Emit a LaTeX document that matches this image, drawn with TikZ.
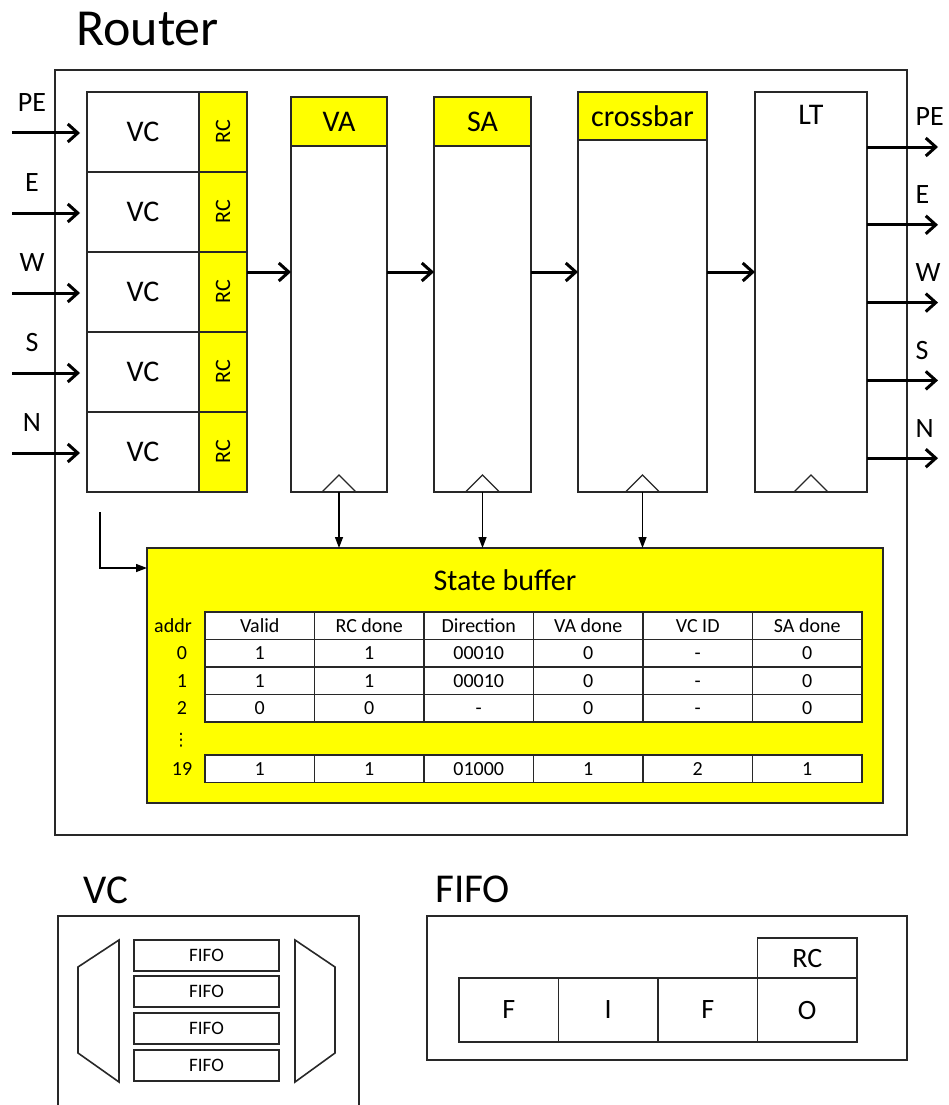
\documentclass[tikz,border=0pt]{standalone}
\usepackage{fontspec}
\setmainfont{Carlito}
\newfontfamily\symb{DejaVu Sans}
\usepackage{tikz}
\usetikzlibrary{arrows.meta, positioning, calc}
\definecolor{jaune}{RGB}{255, 255, 0}
\definecolor{trait}{RGB}{40, 40, 40}

\begin{document}
\begin{tikzpicture}[x=1pt, y=-1pt,
  box/.style={rectangle, draw=trait, line width=1.6pt, inner sep=0pt,
    outer sep=0pt, anchor=north west, align=center},
  hd/.style={box, fill=jaune},
  big/.style={font=\fontsize{30}{34}\selectfont},
  lbl/.style={font=\fontsize{28}{32}\selectfont},
  small/.style={font=\fontsize{20}{22}\selectfont},
  cell/.style={box, fill=white, minimum width=109.5pt,
    minimum height=27.5pt, small, text height=14pt, text depth=1pt},
  arr/.style={line width=3pt, draw=black,
    -{Straight Barb[length=10pt, width=18pt]}},
  tick/.style={line width=1.3pt, draw=black,
    -{Triangle[length=11pt, width=8pt]}},
]
\useasboundingbox (0,0) rectangle (948,1105);

% router
\node[anchor=base west, inner sep=0pt, font=\fontsize{52}{58}\selectfont]
  (rtitle) at (76,46) {Router};
\node[box, minimum width=852pt, minimum height=765pt] (router) at (55,70) {};

\foreach \n/\l [count=\i from 0] in {pe/PE, e/E, w/W, s/S, n/N} {
  \node[box, big, minimum width=112pt, minimum height=80pt]
    (vc\n) at (87,{92+80*\i}) {VC};
  \node[hd, minimum width=48pt, minimum height=80pt,
    font=\fontsize{22}{24}\selectfont]
    (rc\n) at (199,{92+80*\i}) {\rotatebox{90}{RC}};
  \coordinate (in\n) at (12,{133+80*\i});
  \node[lbl] (inl\n) at (32,{103+80*\i}) {\l};
  \draw[arr] (in\n) -- ([xshift=-7pt]vc\n.west |- in\n);
}

\node[box, minimum width=96pt, minimum height=346pt] (va) at (291,146) {};
\node[hd, big, minimum width=96pt, minimum height=49pt] (vahd) at (291,97) {VA};
\node[box, minimum width=97pt, minimum height=346pt] (sa) at (434,146) {};
\node[hd, big, minimum width=97pt, minimum height=49pt] (sahd) at (434,97) {SA};
\node[box, minimum width=129pt, minimum height=352pt] (xbar) at (578,140) {};
\node[hd, big, minimum width=129pt, minimum height=48pt] (xbarhd) at (578,92) {crossbar};
\node[box, minimum width=112pt, minimum height=400pt] (lt) at (755,92) {};
\node[big] (ltlbl) at (811,115) {LT};

\foreach \s in {va, sa, xbar, lt}
  \draw[draw=trait, line width=1.3pt] ($(\s.south)+(-17,0)$) -- ++(17,-17) -- ++(17,17);

\coordinate (lvl) at (0,272);
\draw[arr] (rcw.east |- lvl) -- (va.west |- lvl);
\foreach \a/\b in {va/sa, sa/xbar, xbar/lt}
  \draw[arr] (\a.east |- lvl) -- (\b.west |- lvl);

\foreach \l [count=\i from 0] in {PE, E, W, S, N} {
  \coordinate (out\i) at (938,{147+77.8*\i});
  \node[lbl, anchor=west] (outl\i) at (912,{117+77.8*\i}) {\l};
  \draw[arr] (lt.east |- out\i) -- (out\i);
}

% state buffer
\node[hd, minimum width=736pt, minimum height=255pt] (sb) at (147,548) {};
\node[big] (sbttl) at (505,580) {State buffer};
\foreach \s in {va, sa, xbar}
  \draw[tick] (\s.south) -- (\s.south |- sb.north);
\coordinate (tap) at (100,512);
\draw[tick] (tap) |- ([yshift=-20pt]sb.north west);

\foreach \t [count=\j from 0] in {Valid, RC done, Direction, VA done, VC ID, SA done}
  \node[cell] (h\j) at ({205+109.5*\j},612) {\t};
\foreach \row [count=\k from 0] in {{1,1,00010,0,-,0},{1,1,00010,0,-,0},{0,0,-,0,-,0}}
  \foreach \v [count=\j from 0] in \row
    \node[cell] (c\k\j) at ({205+109.5*\j},{639.5+27.5*\k}) {\v};
\foreach \v [count=\j from 0] in {1,1,01000,1,2,1}
  \node[cell] (d\j) at ({205+109.5*\j},755) {\v};

\node[small] (addr) at (173,626) {addr};
\foreach \a/\y in {0/653, 1/681, 2/708, 19/769}
  \node[small] (a\a) at (182,\y) {\a};
\node[font=\symb\fontsize{17}{17}\selectfont, inner sep=0pt] (adots) at (181,740) {⋮};

% VC detail
\node[anchor=base west, inner sep=0pt, font=\fontsize{41}{46}\selectfont]
  (vctitle) at (83,903) {VC};
\draw[draw=trait, line width=1.6pt] (58,1105) |- (359,916) -- (359,1105);
\draw[draw=trait, line width=1.6pt] (78,967) -- (119,940) -- (119,1082) -- (78,1053) -- cycle;
\draw[draw=trait, line width=1.6pt] (295,940) -- (335,967) -- (335,1053) -- (295,1082) -- cycle;
\foreach \y [count=\i] in {940, 976, 1013, 1050}
  \node[box, minimum width=145pt, minimum height=31pt,
    font=\fontsize{19}{21}\selectfont] (fifo\i) at (134,\y) {FIFO};

% FIFO detail
\node[anchor=base west, inner sep=0pt, font=\fontsize{41}{46}\selectfont]
  (fftitle) at (435,902) {FIFO};
\node[box, minimum width=480pt, minimum height=144pt] (fbox) at (427,916) {};
\foreach \t [count=\i from 0] in {F, I, F, O}
  \node[box, lbl, minimum width=99.5pt, minimum height=64pt]
    (ff\i) at ({459+99.5*\i},978) {\t};
\node[box, lbl, minimum width=99.5pt, minimum height=40pt] (ffrc) at (757.5,938) {RC};
\end{tikzpicture}
\end{document}
